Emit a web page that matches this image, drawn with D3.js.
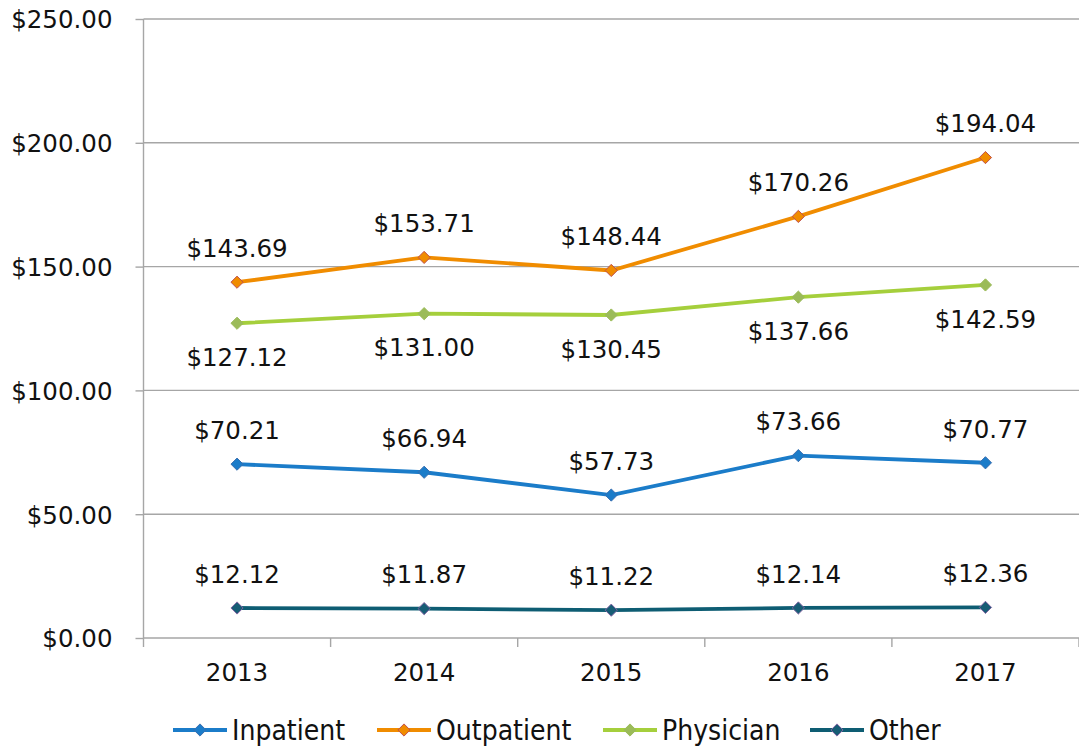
<!DOCTYPE html>
<html>
<head>
<meta charset="utf-8">
<script src="https://cdn.jsdelivr.net/npm/d3@7"></script>
<style>
  body { margin: 0; background: #fff; }
  text { font-family: "DejaVu Sans", sans-serif; fill: #111; }
  .legend text { font-family: "DejaVu Sans Condensed", "Liberation Sans Narrow", "Open Sans", sans-serif; }
</style>
</head>
<body>
<div id="chart"></div>
<script>
// data
let years = ["2013", "2014", "2015", "2016", "2017"]
let inpatient = [70.21, 66.94, 57.73, 73.66, 70.77]
let outpatient = [143.69, 153.71, 148.44, 170.26, 194.04]
let physician = [127.12, 131.00, 130.45, 137.66, 142.59]
let other = [12.12, 11.87, 11.22, 12.14, 12.36]
let yTicks = [0, 50, 100, 150, 200, 250]

let series = [
  {name: "Inpatient", values: inpatient, line: "#1b7cc9", fill: "#1b7cc9", stroke: "#3a6fb0", pos: "above"},
  {name: "Outpatient", values: outpatient, line: "#f08c00", fill: "#f08c00", stroke: "#c0504d", pos: "above"},
  {name: "Physician", values: physician, line: "#a5cf3c", fill: "#9bbb59", stroke: "#9bbb59", pos: "below"},
  {name: "Other", values: other, line: "#0e5d73", fill: "#175d75", stroke: "#8064a2", pos: "above"}
]

let W = 1079, H = 747
let margin = {top: 19, right: 0, bottom: 109, left: 143.5}
let w = W - margin.left - margin.right,
    h = H - margin.top - margin.bottom

let svg = d3.select("#chart").append("svg")
    .attr("width", W)
    .attr("height", H)
let g = svg.append("g")
    .attr("transform", "translate(" + margin.left + "," + margin.top + ")")

let x = d3.scaleBand().domain(years).range([0, w])
let y = d3.scaleLinear().domain([0, 250]).range([h, 0])

// gridlines
g.selectAll(".grid")
  .data(yTicks.filter(d => d > 0))
  .enter().append("line")
    .attr("x1", 0).attr("x2", w)
    .attr("y1", d => y(d)).attr("y2", d => y(d))
    .attr("stroke", "#a6a6a6").attr("stroke-width", 1.4)

// y axis
let yAxis = g.append("g")
  .call(d3.axisLeft(y).tickValues(yTicks).tickSize(8)
    .tickFormat(d => "$" + d3.format(".2f")(d)))
yAxis.selectAll("line, path").attr("stroke", "#a6a6a6").attr("stroke-width", 1.4)
yAxis.select(".domain").attr("d", "M0," + y(250) + "V" + h)
yAxis.selectAll("text").style("font-size", "24.5px").attr("dy", "0.36em").attr("x", -31)

// x axis
let xAxis = g.append("g")
  .attr("transform", "translate(0," + h + ")")
xAxis.append("line").attr("x1", 0).attr("x2", w)
  .attr("stroke", "#a6a6a6").attr("stroke-width", 1.4)
xAxis.selectAll(".tk")
  .data(d3.range(years.length + 1))
  .enter().append("line")
    .attr("x1", i => i * x.step()).attr("x2", i => i * x.step())
    .attr("y1", 0).attr("y2", 9)
    .attr("stroke", "#a6a6a6").attr("stroke-width", 1.4)
xAxis.selectAll(".lbl")
  .data(years)
  .enter().append("text")
    .attr("x", d => x(d) + x.bandwidth() / 2)
    .attr("y", 34)
    .attr("dy", "0.36em")
    .attr("text-anchor", "middle")
    .style("font-size", "24.5px")
    .text(d => d)

let cx = i => x(years[i]) + x.bandwidth() / 2
let line = d3.line().x((d, i) => cx(i)).y(d => y(d))
let diamond = d3.symbol().type(d3.symbolDiamond2).size(95)

series.forEach(s => {
  g.append("path")
    .datum(s.values)
    .attr("d", line)
    .attr("fill", "none")
    .attr("stroke", s.line)
    .attr("stroke-width", 3.8)
  g.selectAll(null)
    .data(s.values)
    .enter().append("path")
      .attr("d", diamond)
      .attr("transform", (d, i) => "translate(" + cx(i) + "," + y(d) + ")")
      .attr("fill", s.fill)
      .attr("stroke", s.stroke)
      .attr("stroke-width", 1)
  g.selectAll(null)
    .data(s.values)
    .enter().append("text")
      .attr("x", (d, i) => cx(i))
      .attr("y", d => y(d) + (s.pos == "above" ? -34 : 34))
      .attr("dy", "0.36em")
      .attr("text-anchor", "middle")
      .style("font-size", "24.5px")
      .text(d => "$" + d3.format(".2f")(d))
})

// legend
let legendX = [173, 377, 603, 810]
let lg = svg.append("g").attr("class", "legend").attr("transform", "translate(0,730)")
series.forEach((s, i) => {
  let item = lg.append("g").attr("transform", "translate(" + legendX[i] + ",0)")
  item.append("line").attr("x1", 0).attr("x2", 54)
    .attr("stroke", s.line).attr("stroke-width", 3.8)
  item.append("path").attr("d", diamond)
    .attr("transform", "translate(27,0)")
    .attr("fill", s.fill).attr("stroke", s.stroke)
  item.append("text").attr("x", 59).attr("dy", "0.36em")
    .style("font-size", "28px")
    .text(s.name)
})
</script>
</body>
</html>
